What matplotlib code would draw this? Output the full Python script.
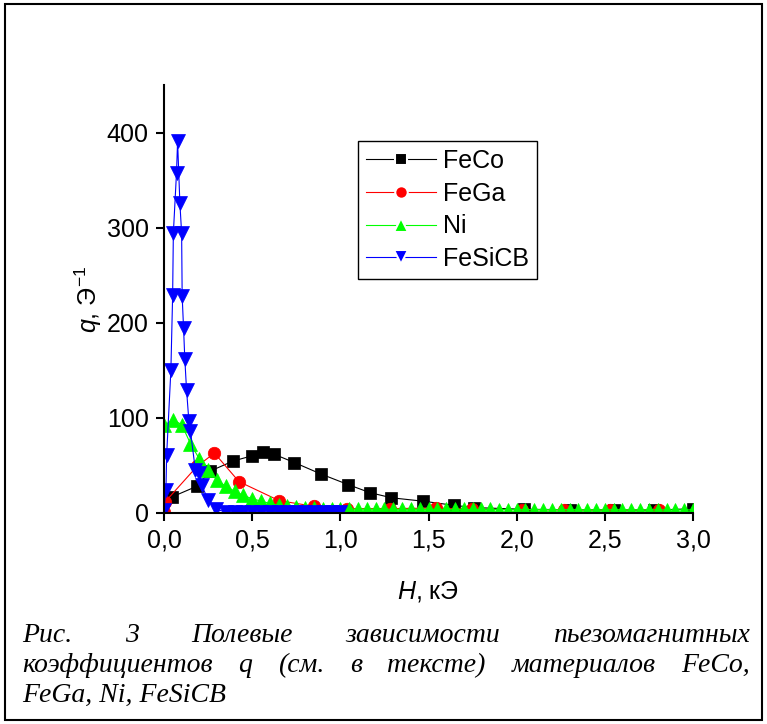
import matplotlib
matplotlib.use('Agg')
import matplotlib.pyplot as plt
from matplotlib.lines import Line2D
from matplotlib.patches import Rectangle

plt.rcParams['font.family'] = ['Liberation Sans', 'DejaVu Sans']
plt.rcParams['mathtext.fontset'] = 'custom'
plt.rcParams['mathtext.rm'] = 'Liberation Sans'
plt.rcParams['mathtext.it'] = 'Liberation Sans:italic'

# данные
feco_h = [0.044, 0.185, 0.261, 0.393, 0.497, 0.56, 0.624, 0.74, 0.89, 1.045, 1.168, 1.29,
          1.47, 1.647, 1.758, 2.04, 2.3, 2.55, 2.78, 3.0]
feco_q = [16.8, 28, 44, 54.7, 60, 64, 61.8, 53, 41, 29.8, 21.4, 16,
          12.4, 8, 5.7, 3.9, 3.5, 3.2, 3.0, 4.5]

fega_h = [0.0, 0.008, 0.187, 0.286, 0.425, 0.653, 0.851, 1.04, 1.28, 1.54, 1.745, 2.03,
          2.27, 2.53, 2.81]
fega_q = [1, 12, 49, 63, 33, 13, 7, 4.6, 4.6, 5.2, 4, 3.5, 3.2, 3.2, 3.6]

ni_h = [0.0, 0.05, 0.1, 0.15, 0.2, 0.25, 0.3, 0.35, 0.4, 0.45, 0.5, 0.55, 0.6, 0.65, 0.7,
        0.75, 0.8, 0.85, 0.9, 0.95, 1.0, 1.05, 1.1, 1.15, 1.2, 1.25, 1.3, 1.35, 1.4, 1.45,
        1.5, 1.55, 1.6, 1.65, 1.7, 1.75, 1.8, 1.85, 1.9, 1.95, 2.0, 2.05, 2.1, 2.15, 2.2,
        2.25, 2.3, 2.35, 2.4, 2.45, 2.5, 2.55, 2.6, 2.65, 2.7, 2.75, 2.8, 2.85, 2.9, 2.95, 3.0]
ni_q = [92, 98, 93, 73, 57, 45, 35, 28, 23, 18.5, 15, 12.5, 10, 8, 7, 6, 5.5, 5, 4.7, 4.5,
        4.3, 4.2, 4.1, 4.1, 4.0, 4.0, 4.0, 3.9, 3.9, 3.9, 3.8, 3.8, 3.8, 3.8, 3.7, 3.7, 3.7,
        3.7, 3.6, 3.6, 3.6, 3.6, 3.6, 3.5, 3.5, 3.5, 3.5, 3.5, 3.5, 3.4, 3.4, 3.4, 3.4, 3.4,
        3.4, 3.4, 3.3, 3.3, 3.3, 3.3, 3.3]

fesicb_h = [0.0, 0.011, 0.015, 0.039, 0.049, 0.053, 0.071, 0.077, 0.090, 0.100, 0.103, 0.111,
            0.118, 0.128, 0.141, 0.150, 0.178, 0.200, 0.214, 0.25, 0.297, 0.35, 0.40, 0.45,
            0.50, 0.55, 0.60, 0.65, 0.70, 0.75, 0.80, 0.85, 0.90, 0.95, 1.00]
fesicb_q = [3, 24, 61, 150, 229, 294, 358, 391, 326, 294, 228, 194,
            162, 129, 97, 86, 45, 42, 29, 14, 4, 1, 1, 1,
            1, 1, 1, 1, 1, 1, 1, 1, 1, 1, 1]

xticks = [0.0, 0.5, 1.0, 1.5, 2.0, 2.5, 3.0]
xtick_labels = ['0,0', '0,5', '1,0', '1,5', '2,0', '2,5', '3,0']
yticks = [0, 100, 200, 300, 400]

series = [
    ('FeCo', feco_h, feco_q, 'black', 's', 8),
    ('FeGa', fega_h, fega_q, 'red', 'o', 9),
    ('Ni', ni_h, ni_q, '#00ff00', '^', 9.5),
    ('FeSiCB', fesicb_h, fesicb_q, 'blue', 'v', 10),
]

W, H = 767, 724
fig = plt.figure(figsize=(W / 100, H / 100), dpi=100)
ax = fig.add_axes([164 / W, 1 - 513 / H, 529 / W, 428 / H])

handles = []
for name, x, y, c, m, ms in series:
    ax.plot(x, y, color=c, lw=0.8, marker=m, ms=ms, mfc=c, mec=c, mew=0.5)
    handles.append(Line2D([0], [0], color=c, lw=0.8, marker=m, ms=ms,
                          mfc=c, mec='white', mew=1.5, label=name))

ax.set_xlim(0, 3.0)
ax.set_ylim(0, 450)
ax.set_xticks(xticks)
ax.set_xticklabels(xtick_labels)
ax.set_yticks(yticks)
ax.spines['top'].set_visible(False)
ax.spines['right'].set_visible(False)
for s in ['left', 'bottom']:
    ax.spines[s].set_linewidth(1.5)
ax.tick_params(direction='out', length=6, width=1.5, labelsize=18, pad=5)

ax.set_xlabel('$H$, кЭ', fontsize=18, labelpad=19)
ax.set_ylabel('$q$, Э$^{-1}$', fontsize=18, labelpad=2)

leg = ax.legend(handles=handles, loc='upper left', bbox_to_anchor=(0.367, 0.868),
                borderaxespad=0, fontsize=18, numpoints=1, handlelength=2.8,
                handletextpad=0.3, labelspacing=0.35, borderpad=0.3,
                fancybox=False, framealpha=1)
leg.get_frame().set_edgecolor('black')
leg.get_frame().set_linewidth(1.0)

# рамка вокруг рисунка
fig.patches.append(Rectangle((5 / W, 4 / H), 757 / W, 716 / H, transform=fig.transFigure,
                             fill=False, ec='black', lw=1.5))

# подпись с выравниванием по ширине
cap_lines = [
    ('Рис. 3 Полевые зависимости пьезомагнитных', True, 641.7),
    ('коэффициентов q (см. в тексте) материалов FeCo,', True, 671.7),
    ('FeGa, Ni, FeSiCB', False, 701.7),
]
cap_font = dict(fontsize=20, family='Liberation Serif', style='italic', va='baseline', ha='left')
left, right = 22, 750
fig.canvas.draw()
r = fig.canvas.get_renderer()
for line, justify, base in cap_lines:
    if not justify:
        fig.text(left / W, 1 - base / H, line, **cap_font)
        continue
    words = line.split(' ')
    texts = [fig.text(0, 1 - base / H, w, **cap_font) for w in words]
    widths = [t.get_window_extent(r).width for t in texts]
    gap = (right - left - sum(widths)) / (len(words) - 1)
    xpos = left
    for t, w in zip(texts, widths):
        t.set_x(xpos / W)
        xpos += w + gap

fig.savefig('out.png', dpi=100)
